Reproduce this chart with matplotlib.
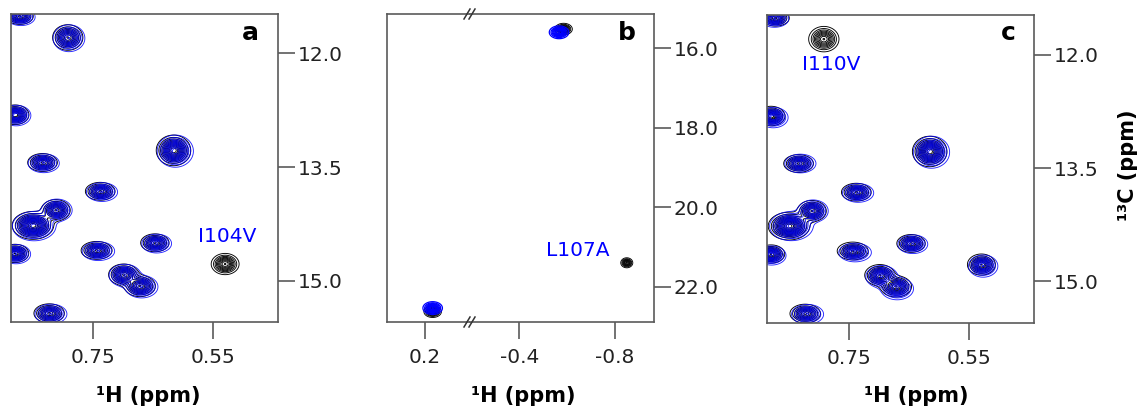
import numpy as np
import matplotlib
matplotlib.use('Agg')
import matplotlib.pyplot as plt

plt.rcParams['font.family'] = 'DejaVu Sans'

W, H = 1139, 408

# ---- peak lists (1H ppm, 13C ppm, sigma 1H, sigma 13C, amplitude) ----
# panels a / c : Ile delta1 region, wild type (black)
wt_h = [0.872, 0.792, 0.880, 0.616, 0.834, 0.738, 0.812, 0.850, 0.647, 0.880, 0.744, 0.530, 0.699, 0.672, 0.823]
wt_c = [11.51, 11.79, 12.81, 13.28, 13.44, 13.82, 14.07, 14.27, 14.50, 14.64, 14.60, 14.78, 14.92, 15.07, 15.43]
wt_sh = [0.0105, 0.0115, 0.0105, 0.0125, 0.0115, 0.0115, 0.0110, 0.0148, 0.0110, 0.0105, 0.0120, 0.0106, 0.0114, 0.0118, 0.0118]
wt_sc = [0.050, 0.077, 0.058, 0.088, 0.055, 0.055, 0.064, 0.079, 0.055, 0.055, 0.055, 0.064, 0.064, 0.064, 0.058]
wt_amp = [1.0, 1.1, 1.2, 1.4, 1.0, 1.0, 1.1, 1.5, 1.0, 1.1, 1.0, 1.1, 1.1, 1.1, 1.0]

# I104V mutant (blue) - peak at 0.53/14.78 gone
a_mut_h = [0.870, 0.790, 0.878, 0.613, 0.832, 0.735, 0.810, 0.848, 0.644, 0.878, 0.741, 0.697, 0.669, 0.820]
a_mut_c = [11.52, 11.80, 12.82, 13.29, 13.45, 13.83, 14.07, 14.28, 14.51, 14.65, 14.61, 14.93, 15.08, 15.44]
a_mut_idx = [0, 1, 2, 3, 4, 5, 6, 7, 8, 9, 10, 12, 13, 14]

# I110V mutant (blue) - peak at 0.794/11.79 gone
c_mut_h = [0.874, 0.876, 0.613, 0.831, 0.735, 0.810, 0.846, 0.644, 0.879, 0.740, 0.527, 0.696, 0.670, 0.819]
c_mut_c = [11.52, 12.83, 13.29, 13.44, 13.83, 14.07, 14.27, 14.51, 14.66, 14.62, 14.80, 14.94, 15.10, 15.44]
c_mut_idx = [0, 2, 3, 4, 5, 6, 7, 8, 9, 10, 11, 12, 13, 14]

# panel b : Leu region, broken 1H axis
b_wt_h = [-0.585, 0.168, -0.849]
b_wt_c = [15.52, 22.63, 21.40]
b_wt_sh = [0.017, 0.017, 0.012]
b_wt_sc = [0.068, 0.068, 0.060]
b_mut_h = [-0.566, 0.168]
b_mut_c = [15.60, 22.54]
b_mut_sh = [0.019, 0.019]
b_mut_sc = [0.075, 0.075]

levels = 0.1 + 0.11 * np.arange(13)
FRAME = '#5a5a5a'
BLUE = '#0000ff'


def spectrum(xg, yg, h, c, sh, sc, amp):
    z = np.zeros_like(xg)
    for h0, c0, sx, sy, a in zip(h, c, sh, sc, amp):
        z += a * np.exp(-((xg - h0) ** 2 / (2 * sx ** 2) + (yg - c0) ** 2 / (2 * sy ** 2)))
    return z


def draw(ax, xlim, ylim, peaks, color, lw=0.65, alpha=1.0):
    x = np.linspace(xlim[0], xlim[1], 600)
    y = np.linspace(ylim[0], ylim[1], 600)
    xg, yg = np.meshgrid(x, y)
    z = spectrum(xg, yg, *peaks)
    ax.contour(xg, yg, z, levels=levels, colors=color, linewidths=lw, alpha=alpha)


def style(ax):
    for s in ax.spines.values():
        s.set_color(FRAME)
        s.set_linewidth(1.2)
    ax.tick_params(axis='both', direction='out', length=12, width=1.2, color=FRAME,
                   labelsize=14.5, labelcolor='#222222')
    ax.tick_params(axis='x', pad=7)
    ax.tick_params(axis='y', pad=2)


def rect(l, r, t, b):
    return [l / W, 1 - b / H, (r - l) / W, (b - t) / H]


fig = plt.figure(figsize=(W / 100, H / 100), dpi=100)

# ---- panels a and c ----
for name, box, mut_h, mut_c, idx, lab, lab_pos, yl in [
        ('a', (10.7, 278, 14, 322), a_mut_h, a_mut_c, a_mut_idx, 'I104V', (0.527, 14.42), (15.545, 11.48)),
        ('c', (766.7, 1034.3, 15, 323), c_mut_h, c_mut_c, c_mut_idx, 'I110V', (0.779, 12.12), (15.555, 11.47))]:
    ax = fig.add_axes(rect(*box))
    xl = (0.887, 0.442)
    draw(ax, xl, yl, (wt_h, wt_c, wt_sh, wt_sc, wt_amp), 'black')
    draw(ax, xl, yl, (mut_h, mut_c, [wt_sh[i] * 1.05 for i in idx],
                      [wt_sc[i] * 1.05 for i in idx], [wt_amp[i] for i in idx]), BLUE, alpha=0.85)
    ax.set_xlim(*xl)
    ax.set_ylim(*yl)
    ax.set_xticks([0.75, 0.55])
    ax.set_xticklabels(['0.75', '0.55'])
    ax.set_yticks([12.0, 13.5, 15.0])
    ax.set_yticklabels(['12.0', '13.5', '15.0'])
    ax.yaxis.tick_right()
    style(ax)
    ax.text(lab_pos[0], lab_pos[1], lab, color=BLUE, fontsize=14.5, ha='center', va='center')

# ---- panel b (broken 1H axis) ----
brk = 470
axl = fig.add_axes(rect(386.7, brk, 14, 322))
axr = fig.add_axes(rect(brk, 654.3, 14, 322))
ylb = (22.89, 15.14)
for ax, xl in [(axl, (0.36, 0.012)), (axr, (-0.194, -0.964))]:
    draw(ax, xl, ylb, (b_wt_h, b_wt_c, b_wt_sh, b_wt_sc, [1.0, 1.0, 0.9]), 'black')
    draw(ax, xl, ylb, (b_mut_h, b_mut_c, b_mut_sh, b_mut_sc, [1.0, 1.0]), BLUE, lw=0.9)
    ax.set_xlim(*xl)
    ax.set_ylim(*ylb)
    style(ax)
axl.spines['right'].set_visible(False)
axr.spines['left'].set_visible(False)
axl.set_yticks([])
axl.set_xticks([0.2])
axl.set_xticklabels(['0.2'])
axr.set_xticks([-0.4, -0.8])
axr.set_xticklabels(['-0.4', '-0.8'])
axr.set_yticks([16.0, 18.0, 20.0, 22.0])
axr.set_yticklabels(['16.0', '18.0', '20.0', '22.0'])
axr.yaxis.tick_right()
axr.tick_params(axis='y', which='both', left=False)
axr.text(-0.645, 21.1, 'L107A', color=BLUE, fontsize=14.5, ha='center', va='center')

# break marks
for yb in (14, 322):
    for dx in (-3, 2):
        fig.add_artist(plt.Line2D([(brk + dx - 3) / W, (brk + dx + 3) / W],
                                  [1 - (yb + 5) / H, 1 - (yb - 5) / H],
                                  color='#333333', lw=1.1))

# ---- labels ----
for letter, x in [('a', 250.7), ('b', 626.7), ('c', 1008.3)]:
    fig.text(x / W, 1 - 33 / H, letter, fontsize=18, fontweight='bold', ha='center', va='center')
for x in (148, 523, 916):
    fig.text(x / W, 1 - 396 / H, '\u00b9H (ppm)', fontsize=15, fontweight='bold', ha='center', va='center')
fig.text(1128 / W, 1 - 165 / H, '\u00b9\u00b3C (ppm)', fontsize=15, fontweight='bold',
         rotation=90, ha='center', va='center')

fig.savefig('out.png', dpi=100)
